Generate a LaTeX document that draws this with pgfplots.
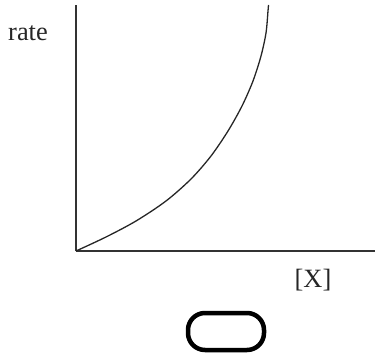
\documentclass[border=0pt]{standalone}
\usepackage{pgfplots}
\pgfplotsset{compat=1.18}
\usepackage{fontspec}
\setmainfont{Liberation Serif}
\begin{document}
\begin{tikzpicture}
\begin{axis}[
  scale only axis, width=299bp, height=246bp,
  xmin=0, xmax=299, ymin=0, ymax=246,
  axis lines*=left, axis line style={line width=1.6bp, color=black!80},
  xtick=\empty, ytick=\empty, clip=false,
]
\addplot[smooth, line width=1.3bp, color=black!85] coordinates {
(0,0) (30,14) (60,30) (90,50) (115,72) (135,95) (152,120) (166,145)
(177,170) (185,195) (190,218) (192,240) (192.5,246)};
\node[font=\fontsize{26.5}{28}\selectfont, text=black!85] at (axis cs:-48,218) {rate};
\node[font=\fontsize{26.5}{28}\selectfont, text=black!85] at (axis cs:237,-29) {[X]};
\draw[line width=4.5bp, rounded corners=17bp] (axis cs:112,-99) rectangle (axis cs:188,-62);
\coordinate (bl) at (axis cs:-76,-105);
\coordinate (tr) at (axis cs:299,251);
\end{axis}
\pgfresetboundingbox
\path (bl) rectangle (tr);
\end{tikzpicture}
\end{document}
